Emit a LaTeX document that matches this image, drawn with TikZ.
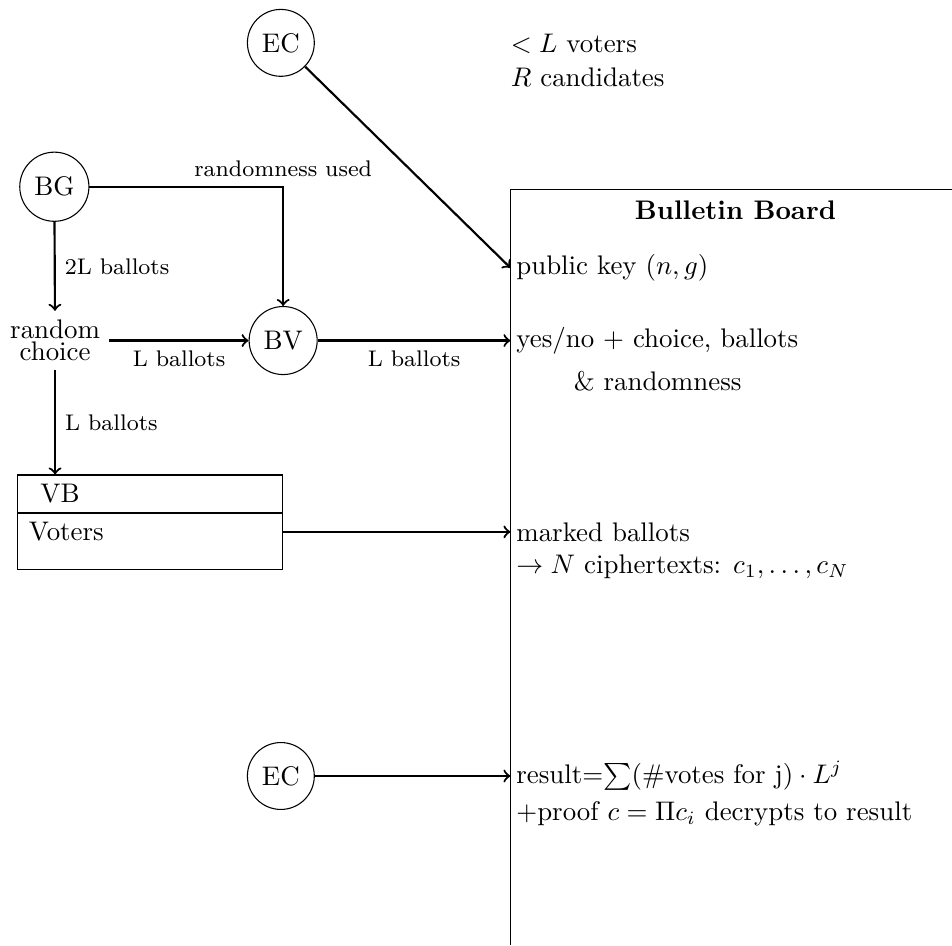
\documentclass[tikz,border=0pt]{standalone}
\usepackage{amsmath}
\usepackage{amssymb}
\usetikzlibrary{arrows}
\begin{document}
\begin{tikzpicture}[party/.style={draw,circle},
    flow/.style={->,thick},
    lab/.style={font=\fontsize{8.4}{10}\selectfont},
    entry/.style={anchor=west,inner sep=2pt},
    panel/.style={draw,anchor=north west,text width=3.17cm,inner xsep=0.15cm,align=left}]
      \useasboundingbox (0,0) rectangle (12.44,-12.35);
      % bulletin board
      \draw (12.44,-2.48) -- (6.67,-2.48) -- (6.67,-12.35);
      \node[font=\bfseries] (bbtitle) at (9.61,-2.75) {Bulletin Board};
      \node[entry] (pk) at (6.67,-3.50) {public key $(n,g)$};
      \node[entry] (yn) at (6.67,-4.45) {yes/no $+$ choice, ballots};
      \node[entry] (rnd) at (7.42,-4.98) {\& randomness};
      \node[entry] (mb) at (6.67,-6.95) {marked ballots};
      \node[entry] (ct) at (6.67,-7.41) {$\rightarrow N$ ciphertexts: $c_1,\ldots,c_N$};
      \node[entry] (res) at (6.67,-10.14) {result=$\sum(\#\mbox{votes for j})\cdot L^j$};
      \node[entry] (prf) at (6.67,-10.63) {+proof $c=\Pi c_i$ decrypts to result};
      \node[anchor=west,align=left] (info) at (6.55,-0.79) {$<L$ voters\\[1pt]$R$ candidates};
      % parties
      \node[party] (ec) at (3.67,-0.56) {EC};
      \node[party] (bg) at (0.71,-2.44) {BG};
      \node[party] (bv) at (3.70,-4.45) {BV};
      \node[align=center] (rc) at (0.72,-4.45) {random\\[-4pt]choice};
      \node[panel,minimum height=0.49cm] (vb) at (0.22,-6.20) {\hspace*{0.15cm}VB};
      \node[panel,text depth=0.26cm] (voters) at (vb.south west) {Voters};
      \node[party] (ec2) at (3.67,-10.14) {EC};
      % flows
      \draw[flow] (ec) -- (pk.west);
      \draw[flow] (bg) -- node[lab,right] {2L ballots} (rc);
      \draw[flow] (bg) -| node[lab,above] {randomness used} (bv);
      \draw[flow] (rc) -- node[lab,below] {L ballots} (bv);
      \draw[flow] (bv) -- node[lab,below] {L ballots} (yn.west);
      \draw[flow] (rc) -- node[lab,right] {L ballots} (rc |- vb.north);
      \draw[flow] (voters.east |- mb.west) -- (mb.west);
      \draw[flow] (ec2) -- (res.west);
\end{tikzpicture}
\end{document}
